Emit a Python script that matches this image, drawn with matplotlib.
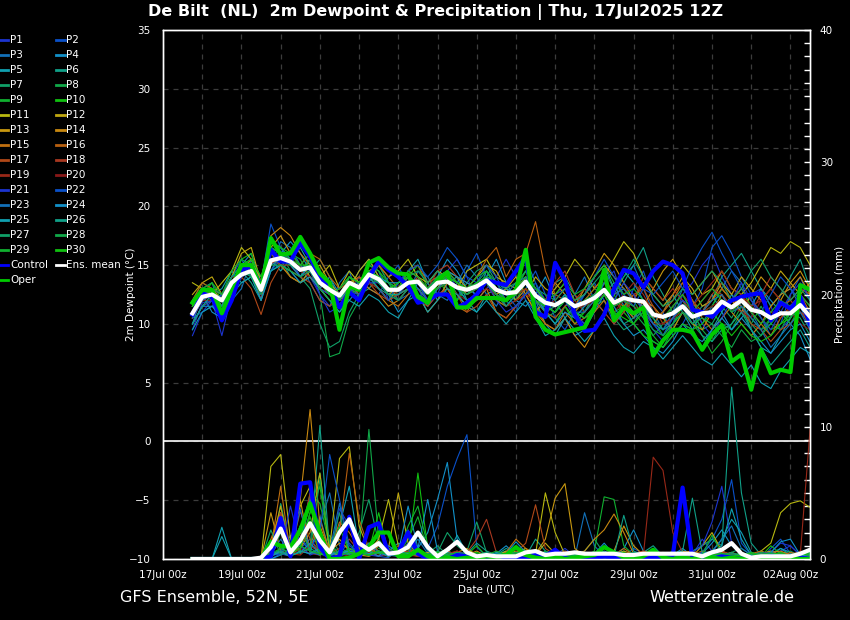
import pandas as pd
import matplotlib
matplotlib.use('Agg')
import matplotlib.pyplot as plt
import matplotlib.dates as mdates
from matplotlib.lines import Line2D

# GFS ensemble De Bilt, run 17Jul2025 12Z, 6-hourly steps 17Jul 18z .. 02Aug 12z
times = pd.date_range('2025-07-17 18:00', periods=64, freq='6h')
x_ticks = pd.date_range('2025-07-17', '2025-08-02', freq='2D')
day_lines = pd.date_range('2025-07-17', '2025-08-02', freq='D')

# 2m dewpoint (deg C)
td_mean = [10.9, 12.3, 12.5, 12.0, 13.5, 14.2, 14.5, 12.9, 15.4, 15.6, 15.3, 14.6, 14.8, 13.5, 12.9, 12.4,
           13.5, 13.1, 14.2, 13.8, 12.9, 12.9, 13.5, 13.6, 12.7, 13.5, 13.6, 13.1, 12.9, 13.2, 13.7, 12.9,
           12.6, 12.7, 13.6, 12.4, 11.8, 11.6, 12.1, 11.5, 11.8, 12.2, 12.9, 11.8, 12.2, 12.0, 11.9, 10.8,
           10.6, 10.9, 11.5, 10.6, 10.9, 11.0, 11.9, 11.4, 12.0, 11.2, 11.0, 10.5, 10.9, 10.9, 11.6, 10.6]
td_control = [10.8, 12.6, 12.3, 10.3, 12.0, 14.6, 14.9, 13.2, 16.3, 15.3, 15.3, 16.9, 15.7, 13.9, 13.2, 11.4,
              12.7, 12.0, 14.0, 15.3, 14.6, 14.0, 13.2, 11.8, 12.0, 12.5, 12.5, 11.4, 11.8, 12.5, 13.7, 13.5,
              13.3, 14.5, 15.7, 11.0, 10.6, 15.2, 13.7, 10.8, 9.4, 9.5, 10.8, 13.0, 14.6, 14.3, 13.1, 14.5,
              15.3, 15.0, 14.3, 11.2, 11.0, 10.6, 11.4, 12.0, 12.3, 12.5, 12.6, 10.3, 11.8, 11.3, 12.3, 10.0]
td_oper = [11.8, 12.9, 12.9, 10.9, 13.0, 15.0, 15.0, 13.0, 17.3, 15.9, 16.0, 17.4, 16.0, 14.3, 13.5, 9.5,
           13.2, 12.9, 15.2, 15.6, 14.8, 14.3, 14.2, 12.3, 11.8, 13.7, 14.4, 11.4, 11.4, 12.2, 12.2, 12.2,
           12.0, 12.9, 16.3, 10.6, 9.5, 9.1, 9.3, 9.5, 9.7, 11.4, 14.6, 10.3, 11.4, 10.9, 11.4, 7.3,
           8.6, 9.5, 9.5, 9.3, 7.8, 9.1, 9.9, 6.8, 7.4, 4.4, 7.8, 5.8, 6.1, 5.9, 13.3, 12.9]

td_p01 = [9.5, 11.8, 12.0, 9.0, 12.5, 14.0, 15.0, 12.0, 16.0, 15.0, 14.5, 13.5, 14.0, 12.5, 11.5, 12.0,
          14.0, 13.5, 15.0, 14.5, 12.0, 12.5, 14.0, 13.0, 11.5, 12.5, 14.5, 15.5, 14.0, 12.0, 13.0, 14.0,
          15.5, 14.0, 12.0, 11.0, 10.5, 12.5, 13.0, 11.0, 10.0, 11.5, 13.5, 14.5, 12.0, 10.5, 11.0, 9.5,
          8.5, 10.0, 12.5, 13.5, 15.0, 16.0, 14.0, 12.5, 11.0, 12.5, 13.0, 11.5, 9.5, 10.5, 12.0, 11.0]
td_p02 = [10.5, 11.0, 11.5, 12.5, 14.0, 15.5, 14.0, 13.5, 18.5, 16.5, 15.0, 14.0, 15.5, 14.0, 13.0, 11.5,
          12.5, 14.0, 13.0, 12.5, 14.0, 15.0, 13.0, 12.0, 13.5, 14.5, 13.0, 12.0, 14.5, 16.0, 14.0, 13.5,
          12.0, 11.0, 13.0, 14.5, 12.5, 10.5, 9.5, 11.0, 12.5, 13.5, 12.0, 10.0, 11.0, 13.0, 14.5, 12.0,
          11.0, 9.0, 10.0, 11.5, 13.0, 16.5, 17.5, 16.0, 14.0, 12.5, 10.5, 9.0, 10.0, 12.5, 14.0, 12.0]
td_p03 = [11.5, 13.0, 13.5, 11.0, 12.0, 13.0, 15.5, 14.0, 15.0, 17.0, 16.5, 15.0, 13.5, 12.0, 11.5, 13.5,
          14.5, 12.0, 13.5, 15.0, 13.5, 12.0, 12.5, 14.5, 14.0, 12.5, 12.0, 13.5, 15.0, 14.0, 12.5, 11.5,
          13.0, 14.5, 15.5, 13.5, 11.0, 10.0, 11.5, 12.5, 14.0, 12.0, 11.0, 12.5, 14.0, 15.0, 13.0, 11.0,
          9.5, 11.0, 13.0, 12.0, 10.0, 11.5, 13.0, 14.5, 13.5, 11.0, 9.5, 10.0, 12.5, 13.0, 11.5, 9.5]
td_p04 = [10.0, 12.5, 11.0, 10.5, 13.0, 15.0, 16.0, 13.5, 14.5, 16.0, 17.0, 16.0, 14.5, 13.0, 14.0, 12.5,
          12.0, 13.0, 14.5, 13.5, 12.5, 11.0, 12.0, 13.5, 12.0, 14.0, 15.5, 14.5, 13.0, 12.5, 14.0, 15.5,
          13.5, 12.0, 11.5, 12.5, 14.0, 12.0, 10.5, 9.0, 9.5, 11.0, 12.5, 13.5, 11.5, 10.0, 9.0, 8.0,
          7.5, 8.5, 10.0, 9.5, 11.0, 12.5, 11.0, 9.5, 10.5, 11.5, 13.0, 12.0, 11.0, 10.0, 9.0, 7.0]
td_p05 = [10.5, 12.0, 12.5, 13.0, 14.5, 13.5, 14.0, 12.5, 15.5, 14.5, 15.5, 16.5, 15.0, 14.5, 13.5, 12.0,
          13.0, 14.5, 15.5, 14.0, 13.5, 13.0, 14.5, 15.5, 13.5, 12.0, 13.5, 14.0, 12.0, 11.0, 12.5, 13.0,
          11.5, 12.5, 14.0, 12.0, 10.0, 9.0, 10.5, 11.5, 12.5, 14.0, 15.0, 13.0, 14.5, 13.5, 12.0, 10.5,
          11.0, 12.5, 11.0, 9.5, 8.0, 9.5, 11.0, 12.5, 11.5, 9.5, 8.0, 7.5, 9.0, 10.5, 12.0, 10.0]
td_p06 = [11.0, 12.0, 13.0, 12.0, 13.0, 14.5, 13.5, 12.0, 15.0, 15.5, 14.0, 13.5, 14.5, 15.5, 14.0, 12.0,
          13.5, 12.5, 13.0, 14.0, 12.5, 13.5, 14.0, 12.5, 11.5, 13.0, 14.0, 12.5, 11.5, 12.5, 14.5, 13.0,
          12.0, 13.0, 14.5, 13.0, 12.0, 13.5, 14.0, 12.5, 11.0, 12.5, 14.0, 12.0, 13.5, 15.0, 16.5, 14.0,
          12.5, 11.0, 12.0, 10.5, 11.5, 12.0, 14.0, 15.0, 16.0, 14.5, 13.0, 11.5, 12.5, 14.0, 15.5, 13.0]
td_p07 = [12.0, 13.5, 13.0, 11.5, 14.0, 15.0, 14.0, 12.5, 14.5, 15.0, 15.5, 14.0, 13.0, 10.0, 8.0, 8.5,
          11.0, 12.5, 13.5, 13.0, 12.0, 13.0, 14.0, 13.0, 12.5, 14.0, 13.0, 12.0, 13.5, 14.5, 15.0, 13.5,
          12.5, 12.0, 13.0, 11.5, 10.5, 11.0, 12.5, 11.0, 10.5, 11.5, 12.0, 10.5, 9.5, 10.0, 11.5, 10.0,
          9.0, 10.5, 12.0, 11.0, 9.5, 10.0, 11.5, 10.5, 12.0, 10.0, 9.0, 10.5, 12.0, 11.0, 10.5, 9.0]
td_p08 = [11.5, 12.5, 12.0, 12.5, 13.5, 14.0, 15.0, 13.0, 16.5, 16.0, 14.5, 14.0, 15.5, 12.5, 7.2, 7.5,
          10.5, 12.0, 14.0, 15.0, 13.5, 12.5, 13.0, 14.0, 13.0, 13.5, 14.5, 13.5, 12.5, 13.0, 14.0, 12.0,
          11.5, 12.0, 13.5, 12.5, 11.0, 10.5, 11.5, 10.5, 11.0, 12.5, 13.0, 11.5, 12.0, 11.0, 10.0, 9.0,
          10.0, 11.5, 12.5, 11.0, 9.5, 8.5, 10.0, 9.5, 11.0, 10.0, 11.5, 10.0, 9.5, 11.0, 12.5, 11.5]
td_p09 = [12.0, 13.0, 12.5, 11.5, 14.0, 14.5, 15.5, 13.5, 16.0, 15.5, 16.0, 15.5, 14.0, 13.0, 12.0, 11.0,
          12.5, 13.0, 14.5, 14.0, 13.0, 12.0, 13.0, 12.5, 12.0, 13.5, 14.0, 13.0, 12.0, 12.5, 13.5, 12.5,
          13.0, 12.5, 13.0, 12.0, 11.5, 11.0, 12.0, 11.0, 12.0, 13.0, 12.5, 11.0, 11.5, 12.0, 10.5, 9.0,
          8.0, 9.5, 11.0, 10.0, 9.0, 7.5, 8.5, 10.0, 11.5, 10.5, 9.5, 10.5, 11.0, 10.0, 11.5, 10.5]
td_p10 = [11.0, 12.5, 13.5, 12.0, 13.0, 15.5, 16.0, 13.0, 17.0, 16.5, 15.5, 14.5, 15.0, 14.0, 13.0, 12.5,
          14.0, 13.0, 15.0, 14.5, 13.0, 13.5, 14.0, 15.0, 13.0, 14.0, 12.5, 12.0, 13.0, 14.0, 14.5, 13.0,
          12.5, 13.0, 14.5, 12.0, 11.0, 10.0, 11.5, 10.0, 11.0, 12.0, 13.5, 12.5, 11.0, 10.0, 11.0, 10.5,
          9.0, 10.0, 11.5, 10.0, 11.0, 11.5, 13.0, 12.0, 13.0, 11.5, 10.5, 9.5, 10.0, 10.5, 12.0, 10.5]
td_p11 = [13.5, 13.0, 12.5, 13.5, 14.5, 16.5, 15.5, 13.5, 15.0, 16.0, 15.0, 14.5, 15.5, 14.0, 15.0, 13.0,
          14.5, 13.5, 14.5, 15.0, 14.0, 14.5, 15.5, 14.0, 13.5, 14.5, 14.0, 13.0, 14.5, 15.0, 15.5, 14.0,
          13.5, 13.0, 14.0, 13.0, 12.0, 13.0, 14.0, 15.5, 14.5, 13.0, 14.0, 15.5, 17.0, 16.0, 14.0, 13.0,
          12.0, 13.5, 15.0, 14.0, 12.5, 13.0, 14.5, 13.0, 12.5, 13.5, 15.0, 16.5, 16.0, 17.0, 16.5, 15.0]
td_p12 = [12.5, 13.5, 14.0, 12.5, 14.0, 16.0, 16.5, 13.5, 15.5, 15.0, 14.0, 13.5, 14.5, 15.0, 13.5, 12.5,
          13.0, 14.5, 15.5, 14.0, 12.5, 13.0, 14.0, 13.5, 12.5, 13.0, 14.5, 14.0, 13.0, 14.0, 15.0, 14.5,
          13.0, 12.0, 12.5, 14.0, 13.0, 12.5, 13.5, 12.0, 12.5, 14.0, 15.0, 14.0, 13.0, 12.0, 13.5, 12.5,
          11.5, 12.5, 14.0, 13.0, 11.5, 12.0, 13.5, 12.5, 14.0, 13.0, 12.0, 13.0, 14.5, 13.5, 12.5, 13.5]
td_p13 = [11.5, 12.5, 13.0, 12.0, 13.5, 14.0, 15.0, 14.0, 16.5, 17.5, 16.0, 15.0, 14.0, 13.5, 12.5, 13.0,
          14.0, 13.5, 14.0, 13.0, 12.0, 13.0, 14.5, 14.0, 12.5, 13.0, 14.0, 13.5, 12.5, 13.0, 14.0, 12.5,
          13.0, 14.0, 12.5, 11.0, 12.0, 13.5, 12.5, 11.5, 13.0, 14.5, 16.0, 15.0, 13.5, 12.0, 11.5, 13.0,
          14.5, 15.5, 14.0, 12.5, 13.5, 14.5, 13.0, 12.0, 11.0, 12.5, 14.0, 13.0, 12.0, 13.5, 14.5, 13.0]
td_p14 = [11.0, 12.0, 12.5, 11.5, 13.0, 14.5, 15.5, 13.0, 17.5, 18.2, 17.5, 16.0, 15.0, 13.0, 12.0, 11.5,
          13.5, 14.0, 13.0, 12.5, 11.5, 12.0, 13.0, 12.5, 11.0, 12.0, 13.5, 12.5, 11.5, 12.0, 13.0, 11.0,
          10.5, 11.5, 12.5, 11.0, 10.0, 9.5, 10.5, 9.0, 8.0, 9.5, 11.0, 12.0, 11.5, 10.5, 12.0, 11.5,
          10.5, 9.5, 11.0, 10.0, 9.5, 11.0, 12.5, 11.0, 10.0, 9.0, 10.0, 11.5, 12.5, 13.0, 14.0, 12.5]
td_p15 = [10.0, 11.5, 12.0, 11.0, 12.5, 14.0, 14.5, 12.0, 16.0, 15.0, 14.0, 13.5, 14.0, 13.0, 12.5, 12.0,
          13.0, 12.5, 13.5, 13.0, 12.0, 11.5, 12.5, 13.0, 12.0, 12.5, 13.0, 11.5, 11.0, 12.5, 13.5, 12.0,
          11.5, 12.0, 13.0, 11.5, 10.0, 9.5, 11.0, 10.0, 10.5, 11.0, 12.0, 10.5, 11.5, 12.5, 11.0, 10.0,
          11.0, 12.0, 13.5, 12.0, 10.5, 9.5, 10.5, 11.5, 12.5, 11.0, 10.0, 9.0, 10.5, 11.5, 12.5, 11.0]
td_p16 = [12.0, 13.5, 13.0, 12.5, 14.0, 14.0, 14.5, 13.5, 15.0, 16.0, 15.5, 15.0, 16.0, 15.5, 14.0, 13.0,
          13.5, 12.5, 14.0, 15.0, 14.0, 13.0, 14.5, 15.0, 13.5, 14.0, 14.5, 13.5, 13.0, 14.0, 15.5, 16.5,
          14.0, 15.5, 16.0, 18.7, 14.5, 12.5, 12.0, 11.0, 12.0, 13.0, 14.0, 12.5, 13.0, 12.0, 11.5, 10.5,
          11.0, 12.5, 13.5, 12.0, 11.0, 12.0, 13.0, 12.0, 13.0, 12.0, 11.0, 10.5, 11.5, 12.0, 13.0, 12.5]
td_p17 = [11.0, 12.0, 12.5, 11.0, 13.0, 14.0, 13.0, 10.8, 13.5, 15.0, 14.5, 14.0, 13.5, 12.0, 11.5, 12.5,
          13.0, 14.0, 13.5, 12.5, 12.0, 12.5, 13.0, 12.0, 11.5, 12.5, 13.0, 12.5, 11.0, 11.5, 12.5, 11.0,
          10.5, 11.5, 12.5, 12.0, 11.0, 10.5, 11.5, 12.0, 13.0, 12.0, 11.0, 10.0, 11.0, 12.5, 13.0, 11.5,
          10.0, 10.5, 11.5, 10.5, 11.0, 12.5, 13.5, 12.0, 11.5, 10.0, 9.5, 8.5, 9.5, 10.0, 11.0, 10.0]
td_p18 = [10.5, 12.0, 13.0, 12.5, 13.5, 14.5, 15.0, 13.0, 15.0, 16.0, 15.5, 14.5, 14.0, 13.0, 12.5, 11.5,
          12.5, 13.5, 14.0, 13.5, 13.0, 12.5, 13.0, 14.0, 13.0, 14.5, 15.0, 14.0, 13.5, 13.0, 13.5, 12.5,
          12.0, 13.0, 14.0, 12.5, 12.0, 13.5, 14.5, 12.5, 11.5, 12.5, 13.5, 12.0, 11.0, 12.0, 14.0, 13.0,
          12.0, 13.0, 12.0, 11.0, 12.0, 13.0, 12.5, 11.5, 12.0, 11.0, 12.5, 14.0, 13.0, 12.0, 11.0, 10.5]
td_p19 = [11.0, 12.5, 12.5, 12.0, 13.5, 14.0, 14.5, 12.5, 15.5, 15.0, 15.0, 14.0, 14.5, 13.5, 13.0, 12.5,
          13.5, 13.0, 14.5, 14.0, 13.0, 12.5, 13.5, 13.5, 12.5, 13.5, 14.0, 13.0, 12.5, 13.0, 13.5, 12.5,
          12.0, 12.5, 13.0, 12.0, 11.5, 12.0, 13.0, 12.0, 11.0, 12.0, 13.0, 11.5, 12.5, 13.5, 12.5, 11.0,
          10.5, 11.5, 12.5, 11.5, 12.5, 13.5, 14.5, 13.0, 12.5, 11.5, 12.0, 11.0, 10.5, 11.5, 12.5, 11.5]
td_p20 = [10.5, 12.0, 12.0, 11.5, 13.0, 14.5, 15.0, 13.0, 15.0, 15.5, 15.0, 14.5, 14.0, 13.5, 12.5, 12.0,
          13.0, 12.5, 13.5, 13.0, 12.5, 12.0, 13.0, 13.5, 12.5, 13.0, 13.5, 12.5, 12.0, 12.5, 13.0, 12.5,
          11.5, 12.0, 12.5, 12.0, 11.0, 11.5, 12.0, 11.5, 11.5, 12.0, 12.5, 11.0, 12.0, 11.5, 11.0, 10.0,
          10.0, 10.5, 11.0, 10.0, 11.0, 11.5, 12.0, 11.5, 11.0, 10.5, 12.0, 13.0, 12.0, 11.0, 10.0, 9.5]
td_p21 = [9.0, 11.0, 12.0, 11.5, 13.5, 14.0, 14.5, 12.5, 15.5, 16.0, 15.5, 14.0, 14.5, 12.5, 11.0, 11.5,
          13.0, 12.0, 13.5, 13.5, 12.5, 12.0, 13.0, 13.5, 12.0, 13.5, 14.5, 13.0, 12.0, 12.5, 13.5, 12.0,
          11.0, 11.5, 12.5, 13.0, 11.5, 11.0, 12.0, 10.5, 10.0, 11.5, 13.0, 12.0, 13.5, 12.5, 11.0, 10.0,
          9.0, 10.5, 12.0, 11.5, 10.0, 9.0, 10.5, 12.0, 13.5, 12.0, 10.5, 9.5, 11.0, 12.5, 13.5, 12.0]
td_p22 = [10.0, 11.5, 12.0, 12.5, 14.0, 14.5, 14.0, 12.0, 14.5, 15.5, 16.0, 15.0, 14.5, 13.0, 12.5, 13.0,
          14.0, 13.5, 14.0, 13.0, 12.0, 13.5, 14.5, 15.0, 14.0, 15.0, 16.5, 15.5, 14.0, 13.5, 15.0, 14.0,
          12.5, 11.5, 12.5, 13.5, 12.0, 11.5, 12.5, 11.5, 12.5, 14.0, 15.5, 14.0, 12.5, 11.5, 13.0, 12.5,
          13.5, 14.5, 13.0, 15.0, 16.5, 17.8, 16.0, 14.5, 13.0, 12.0, 11.0, 12.5, 14.0, 13.0, 12.0, 11.0]
td_p23 = [10.5, 12.0, 12.5, 12.0, 13.0, 14.0, 15.0, 13.0, 16.0, 16.5, 15.5, 14.5, 15.0, 14.0, 13.0, 12.5,
          13.0, 12.5, 14.0, 13.5, 12.5, 12.5, 13.5, 13.0, 12.0, 13.0, 14.0, 13.5, 13.0, 13.5, 14.0, 13.0,
          12.5, 13.5, 14.0, 12.5, 11.5, 11.0, 12.0, 11.0, 11.0, 12.0, 13.5, 12.5, 13.0, 12.0, 11.5, 10.0,
          9.5, 10.5, 11.5, 10.0, 11.0, 12.0, 12.5, 11.0, 11.5, 10.5, 9.5, 8.0, 9.0, 10.0, 11.0, 9.5]
td_p24 = [10.0, 11.5, 11.5, 10.5, 12.5, 14.5, 15.0, 13.0, 15.0, 15.5, 15.0, 14.0, 15.0, 14.0, 12.5, 12.0,
          13.0, 13.5, 14.5, 14.0, 13.5, 13.5, 14.0, 13.5, 13.0, 14.0, 14.5, 14.0, 13.5, 13.0, 14.0, 13.5,
          13.0, 12.5, 13.5, 12.5, 11.0, 10.0, 11.0, 10.5, 11.5, 12.5, 13.0, 11.5, 10.0, 9.0, 9.5, 8.5,
          8.0, 9.0, 10.0, 9.0, 8.5, 9.5, 10.5, 9.5, 10.5, 9.5, 8.5, 7.5, 8.5, 9.5, 10.0, 8.5]
td_p25 = [9.5, 11.0, 11.5, 11.0, 12.5, 13.5, 14.0, 12.0, 14.5, 15.0, 14.5, 13.5, 14.0, 13.0, 12.0, 11.0,
          12.0, 11.5, 12.5, 12.0, 11.0, 10.5, 12.0, 12.5, 11.0, 12.0, 13.0, 12.5, 11.5, 11.0, 12.0, 11.0,
          10.0, 11.0, 12.0, 10.5, 9.0, 9.5, 10.5, 9.5, 8.5, 9.5, 10.5, 9.0, 8.0, 7.5, 8.5, 8.0,
          7.0, 8.0, 9.0, 8.0, 7.0, 6.5, 7.5, 6.5, 5.5, 6.5, 5.0, 4.5, 6.0, 7.0, 8.0, 7.5]
td_p26 = [10.0, 11.5, 12.5, 11.5, 13.5, 14.5, 15.0, 13.5, 16.5, 16.0, 15.0, 14.5, 15.0, 13.5, 12.5, 12.0,
          13.5, 13.0, 14.0, 13.0, 12.5, 12.5, 13.0, 13.5, 12.5, 13.5, 14.0, 13.0, 12.0, 12.5, 13.5, 12.5,
          11.5, 12.5, 13.5, 12.0, 11.0, 11.5, 12.5, 11.0, 10.5, 11.5, 12.5, 11.0, 10.0, 10.5, 11.5, 10.5,
          9.5, 10.0, 11.0, 10.5, 9.0, 8.5, 9.5, 10.0, 11.0, 9.5, 8.0, 6.5, 7.5, 8.5, 9.5, 8.0]
td_p27 = [11.5, 12.5, 13.0, 12.5, 14.0, 15.0, 15.5, 13.0, 16.0, 15.5, 15.0, 14.5, 15.5, 14.0, 13.0, 12.5,
          13.5, 13.0, 14.5, 14.0, 13.0, 13.0, 14.0, 14.5, 13.5, 14.5, 13.5, 13.0, 12.5, 13.5, 14.5, 13.5,
          13.0, 13.5, 14.5, 13.0, 12.5, 12.0, 13.0, 12.0, 12.5, 13.5, 14.5, 13.0, 14.0, 15.5, 14.0, 12.5,
          11.5, 12.0, 13.0, 12.5, 13.5, 14.5, 13.5, 12.0, 13.0, 14.5, 15.5, 14.0, 13.0, 12.0, 13.0, 12.0]
td_p28 = [11.0, 12.5, 12.5, 12.0, 13.5, 14.5, 14.0, 12.5, 15.0, 15.0, 14.5, 14.0, 14.5, 13.0, 12.0, 11.5,
          12.5, 13.0, 14.0, 13.5, 12.5, 12.0, 13.0, 13.5, 12.5, 13.0, 13.5, 13.0, 12.5, 13.0, 13.5, 12.5,
          12.0, 12.5, 13.5, 12.5, 11.5, 11.0, 12.0, 11.5, 12.0, 12.5, 13.0, 11.5, 12.0, 11.5, 10.5, 9.5,
          9.0, 10.0, 11.0, 10.0, 10.5, 10.0, 9.0, 8.0, 9.5, 8.5, 9.0, 10.0, 11.0, 10.5, 11.5, 10.5]
td_p29 = [12.0, 13.0, 13.5, 12.5, 14.5, 15.5, 15.0, 13.5, 16.5, 16.0, 15.5, 15.0, 16.0, 14.5, 13.5, 12.0,
          14.0, 13.5, 15.0, 14.5, 13.5, 13.0, 14.5, 14.0, 13.0, 14.0, 14.5, 13.5, 13.0, 14.0, 14.5, 13.0,
          12.5, 13.0, 14.0, 13.0, 12.0, 12.5, 13.5, 12.5, 13.0, 14.0, 15.0, 13.5, 12.5, 13.0, 12.0, 11.0,
          10.5, 11.5, 12.5, 11.0, 12.0, 13.0, 12.0, 11.0, 12.0, 11.0, 10.0, 11.0, 12.0, 11.5, 12.5, 11.5]
td_p30 = [11.5, 13.0, 12.5, 12.0, 13.5, 15.0, 15.5, 14.0, 17.0, 16.5, 16.0, 15.0, 15.0, 13.5, 12.5, 13.0,
          14.0, 13.5, 14.5, 14.0, 13.0, 13.5, 14.0, 13.5, 12.5, 13.5, 14.0, 13.5, 13.0, 13.5, 14.0, 13.0,
          12.0, 12.5, 13.5, 12.0, 11.5, 11.0, 12.0, 11.0, 10.5, 11.5, 12.5, 11.0, 10.5, 10.0, 9.0, 8.5,
          8.0, 9.0, 10.0, 9.5, 10.0, 11.0, 10.0, 9.0, 10.0, 9.0, 8.5, 9.0, 10.0, 11.0, 12.0, 10.5]

# precipitation (mm per 6h)
rr_mean = [0, 0, 0, 0, 0, 0, 0, 0.1, 0.9, 2.3, 0.5, 1.4, 2.7, 1.4, 0.5, 2.0,
           3.0, 1.2, 0.7, 1.2, 0.4, 0.5, 0.9, 2.0, 0.9, 0.2, 0.7, 1.3, 0.5, 0.2, 0.3, 0.2,
           0.2, 0.2, 0.5, 0.6, 0.3, 0.4, 0.4, 0.5, 0.4, 0.4, 0.4, 0.4, 0.3, 0.3, 0.4, 0.4,
           0.4, 0.4, 0.4, 0.4, 0.2, 0.5, 0.7, 1.2, 0.4, 0.1, 0.2, 0.2, 0.2, 0.2, 0.4, 0.7]
rr_control = [0, 0, 0, 0, 0, 0, 0, 0, 0.2, 3.1, 0.2, 5.7, 5.8, 0.9, 0, 0.2,
              3.2, 0, 2.4, 2.7, 0.4, 0.5, 2.0, 0.4, 0, 0.1, 0, 0.3, 0.2, 0.1, 0, 0.1,
              0, 0.1, 0, 0.4, 0.2, 0.7, 0.1, 0, 0.1, 0, 0.2, 0.1, 0, 0.1, 0, 0.1,
              0, 0.3, 5.4, 0, 0.1, 0, 0.2, 0.1, 0, 0.1, 0, 0.2, 0.1, 0, 0.1, 0]
rr_oper = [0, 0, 0, 0, 0, 0, 0, 0, 1.3, 1.0, 0.9, 2.2, 4.2, 2.0, 0, 0,
           0.1, 0.4, 0.9, 2.0, 2.0, 0.2, 0.2, 0.7, 0.2, 0, 0.1, 0, 0.1, 0, 0.2, 0.1,
           0.3, 0.9, 0.3, 0.1, 0, 0.2, 0, 0.1, 0.2, 0.3, 0.9, 0.5, 0.1, 0, 0.2, 0.7,
           0.1, 0, 0.1, 0, 0.2, 0.1, 0, 0.1, 0, 0, 0.1, 0, 0, 0.1, 0, 0]

rr_p01 = [0, 0, 0, 0, 0, 0, 0, 0, 0.5, 3.5, 0.3, 2.0, 4.8, 0.4, 0.1, 3.8,
          2.5, 0.6, 0.3, 1.0, 0.2, 0.5, 2.2, 0.8, 0.2, 0.1, 0, 0.4, 0.3, 0.1, 0, 0,
          0.2, 0.5, 0.1, 0, 0, 0.3, 0.8, 0.2, 0, 0, 0.1, 0.4, 0.2, 0, 0.1, 0.5,
          0.2, 0.1, 0, 0.3, 1.5, 0.6, 0, 0.2, 0.4, 0.3, 0.1, 0, 0.6, 1.0, 0.3, 0.1]
rr_p02 = [0, 0, 0, 0, 0, 0, 0, 0, 0, 0.4, 0.2, 0.8, 1.5, 0.6, 0.2, 0.5,
          1.2, 0.3, 0.6, 0.2, 0.1, 0.8, 1.5, 2.0, 0.8, 2.5, 5.5, 7.6, 9.4, 0.9, 0.2, 0,
          0, 0.2, 0.4, 0.1, 0, 0.5, 0.2, 0, 0, 0.1, 0, 0.3, 0.2, 0.8, 0.4, 0,
          0.1, 0.3, 0, 0.2, 0.5, 1.5, 3.0, 6.0, 1.2, 0.3, 0, 0.8, 1.5, 0.4, 0, 0.2]
rr_p03 = [0, 0, 0, 0, 0, 0, 0, 0, 0.2, 0.8, 0.4, 1.5, 0.6, 2.5, 5.0, 1.0,
          0.3, 1.2, 0.5, 0.2, 0.8, 0.3, 0.6, 1.5, 0.4, 0.2, 0.8, 1.2, 0.3, 0.1, 0, 0.2,
          0.5, 0.3, 0.2, 0.6, 0.1, 0, 0.2, 0.1, 3.5, 1.0, 0.2, 0, 0.1, 0.3, 0.2, 0,
          0.1, 0.2, 0.5, 0.3, 0, 0.1, 0.4, 0.2, 0.1, 0, 0.3, 0.6, 0.2, 0.1, 0, 0.3]
rr_p04 = [0, 0, 0, 0, 0, 0, 0, 0, 0, 0.3, 1.8, 0.6, 0.4, 3.2, 0.5, 0.2,
          0.8, 0.2, 0.4, 1.0, 0.3, 0.2, 0.5, 0.8, 2.0, 4.5, 7.3, 1.5, 0.6, 0.3, 0.2, 0.4,
          1.0, 0.3, 0.2, 0.1, 0.5, 0.2, 0.6, 0.3, 0.2, 0.4, 1.2, 0.3, 0.8, 2.2, 0.6, 0.2,
          0.1, 0.3, 0.8, 0.2, 0.4, 1.2, 2.2, 1.0, 0.5, 0.2, 0.1, 0.3, 0.8, 0.5, 0.3, 0.6]
rr_p05 = [0, 0, 0, 2.4, 0, 0, 0, 0, 0.2, 2.5, 0.3, 0.8, 4.5, 0.6, 0.3, 2.5,
          5.5, 0.8, 0.4, 0.2, 0.6, 1.2, 0.8, 0.3, 0.2, 0.5, 0.3, 1.8, 0.4, 0.2, 0.1, 0.3,
          0.6, 0.2, 0.1, 0.3, 0.2, 0.1, 0, 0.2, 0.4, 0.2, 0.6, 0.3, 0.2, 0.4, 0.3, 0.1,
          0, 0.2, 0.4, 0.3, 0.1, 0.6, 1.5, 3.0, 2.0, 0.5, 0.2, 0.4, 0.8, 0.3, 0.1, 0.2]
rr_p06 = [0, 0, 0, 0, 0, 0, 0, 0, 0.3, 0.6, 1.5, 0.4, 0.8, 10.1, 0.5, 0.2,
          0.6, 0.3, 0.8, 0.5, 0.2, 0.4, 1.0, 0.6, 0.3, 0.2, 0.5, 0.2, 0.4, 1.2, 0.6, 0.3,
          0.8, 0.4, 0.2, 1.5, 0.6, 0.3, 0.2, 0.1, 0.3, 0.5, 0.2, 0.4, 0.6, 0.3, 0.5, 1.0,
          0.2, 0.5, 0.3, 0.6, 1.0, 1.5, 1.0, 13.0, 5.0, 1.2, 0.3, 0.2, 0.1, 0.4, 0.3, 0.2]
rr_p07 = [0, 0, 0, 0, 0, 0, 0, 0, 0, 4.2, 0.8, 2.5, 0.6, 0.4, 1.8, 0.5,
          0.3, 2.0, 4.5, 1.2, 0.8, 0.3, 0.6, 0.2, 0.4, 1.0, 0.3, 0.2, 0.6, 2.8, 0.5, 0.2,
          0.1, 0.3, 0.6, 0.2, 0.1, 0.4, 0.2, 0.3, 0.6, 1.5, 0.4, 0.2, 0.3, 0.1, 0.5, 0.2,
          0.4, 0.2, 0.1, 0.3, 0.6, 0.4, 0.2, 0.5, 0.8, 0.3, 0.2, 0.1, 0.4, 0.6, 0.2, 0.1]
rr_p08 = [0, 0, 0, 0, 0, 0, 0, 0, 0.2, 2.0, 0.5, 1.0, 3.5, 6.5, 0.8, 0.3,
          0.4, 0.6, 9.8, 1.5, 0.4, 0.2, 0.8, 0.5, 0.3, 0.1, 0.4, 0.2, 0.3, 0.1, 0, 0.2,
          0.1, 0.4, 0.3, 0.2, 0.6, 0.3, 0.1, 0, 0.2, 0.1, 0.3, 0.2, 0.1, 0.3, 0.2, 0.1,
          0, 0.2, 0.1, 0.4, 0.2, 0.1, 0.3, 0.2, 0.5, 0.2, 0.1, 0.3, 0.2, 0.1, 0.2, 0.3]
rr_p09 = [0, 0, 0, 0, 0, 0, 0, 0, 0.1, 0.8, 1.5, 0.6, 5.0, 4.2, 1.0, 0.4,
          0.6, 0.3, 1.2, 0.8, 0.5, 0.3, 1.5, 3.2, 0.6, 0.3, 0.2, 0.5, 0.4, 0.2, 0.1, 0.3,
          0.5, 0.2, 0.8, 0.3, 0.1, 0.2, 0.4, 0.3, 0.2, 0.6, 4.7, 4.5, 1.0, 0.3, 0.2, 0.1,
          0.3, 0.2, 0.1, 0.4, 0.3, 0.2, 0.5, 0.3, 0.4, 0.2, 0.6, 0.3, 0.1, 0.2, 0.3, 0.5]
rr_p10 = [0, 0, 0, 0, 0, 0, 0, 0, 0.3, 3.0, 0.2, 1.0, 3.5, 5.5, 0.6, 0.2,
          0.8, 0.4, 0.6, 3.5, 0.5, 0.2, 0.4, 6.5, 0.8, 0.3, 0.2, 0.5, 0.3, 1.0, 0.2, 0.1,
          0.4, 0.2, 0.3, 0.1, 0.2, 0.5, 0.3, 0.2, 0.1, 0.3, 0.2, 0.5, 0.4, 0.2, 0.1, 0.3,
          0.2, 0.6, 0.3, 0.2, 0.5, 0.3, 0.2, 0.4, 0.3, 0.5, 0.2, 1.0, 0.4, 0.2, 0.3, 0.6]
rr_p11 = [0, 0, 0, 0, 0, 0, 0, 0, 7.0, 7.9, 1.5, 4.0, 5.5, 1.2, 0.8, 7.6,
          8.5, 2.5, 0.6, 1.5, 4.5, 1.0, 0.4, 0.8, 0.3, 0.2, 0.6, 0.3, 0.2, 0.1, 0.3, 0.2,
          0.6, 0.3, 0.2, 0.4, 5.0, 2.0, 0.3, 0.2, 0.1, 0.4, 0.3, 0.2, 0.6, 0.3, 0.2, 0.1,
          0.3, 0.2, 0.5, 0.3, 0.2, 0.6, 0.3, 0.2, 0.4, 0.2, 0.6, 1.2, 3.5, 4.2, 4.4, 3.9]
rr_p12 = [0, 0, 0, 0, 0, 0, 0, 0, 1.0, 4.0, 0.3, 0.8, 2.0, 6.5, 0.6, 0.2,
          3.0, 1.0, 0.5, 0.2, 0.8, 5.0, 1.2, 0.3, 0.5, 0.2, 0.4, 0.3, 0.1, 0.2, 0.4, 0.3,
          0.2, 0.5, 0.8, 0.3, 1.2, 0.4, 0.2, 0.3, 0.5, 0.3, 0.2, 0.6, 0.4, 0.2, 0.3, 0.1,
          0.2, 0.5, 0.3, 0.2, 1.0, 2.0, 0.6, 0.3, 0.2, 0.4, 0.3, 0.2, 0.5, 0.3, 0.2, 0.4]
rr_p13 = [0, 0, 0, 0, 0, 0, 0, 0, 3.5, 0.6, 0.3, 4.5, 0.5, 0.3, 0.8, 1.5,
          0.6, 0.3, 0.2, 0.5, 0.4, 0.3, 0.5, 0.4, 0.2, 0.3, 0.1, 0.5, 0.8, 0.3, 0.2, 0.1,
          0.3, 0.6, 0.2, 0.4, 1.5, 4.6, 5.7, 0.8, 0.2, 0.5, 0.3, 0.6, 2.5, 1.0, 0.3, 0.2,
          0.5, 0.2, 0.6, 0.3, 0.2, 0.4, 0.3, 0.2, 0.3, 0.2, 0.4, 0.6, 0.3, 0.2, 0.5, 0.3]
rr_p14 = [0, 0, 0, 0, 0, 0, 0, 0, 1.5, 3.5, 0.8, 4.5, 11.3, 2.5, 0.6, 1.2,
          0.8, 0.4, 1.2, 0.6, 0.3, 0.5, 0.8, 0.2, 0.3, 0.5, 0.2, 0.1, 0.3, 0.6, 0.2, 0.3,
          0.2, 0.1, 0.4, 0.2, 0.3, 0.2, 0.5, 0.3, 0.6, 1.5, 2.2, 3.4, 2.0, 0.4, 0.2, 0.1,
          0.3, 0.2, 0.5, 0.6, 0.3, 0.2, 0.4, 0.2, 0.1, 0.3, 0.2, 0.5, 0.6, 0.3, 0.2, 0.1]
rr_p15 = [0, 0, 0, 0, 0, 0, 0, 0, 0.8, 5.5, 0.4, 2.0, 1.0, 3.0, 0.5, 2.8,
          2.0, 0.8, 0.3, 1.0, 0.6, 0.4, 1.2, 0.5, 0.4, 0.2, 0.3, 0.6, 0.2, 0.1, 0.3, 0.2,
          0.5, 1.5, 0.8, 0.3, 0.2, 0.4, 0.3, 0.2, 0.4, 0.2, 0.1, 0.3, 0.8, 0.3, 0.5, 0.2,
          0.2, 0.4, 0.3, 0.2, 0.4, 0.6, 0.3, 0.5, 0.2, 0.4, 0.6, 0.3, 0.2, 0.5, 0.3, 0.2]
rr_p16 = [0, 0, 0, 0, 0, 0, 0, 0, 0.5, 2.2, 0.6, 0.8, 2.5, 0.4, 0.3, 2.0,
          8.0, 3.0, 0.8, 0.4, 0.3, 0.6, 0.4, 0.2, 0.3, 0.4, 0.2, 0.5, 0.3, 0.2, 0.1, 0.3,
          0.2, 0.4, 0.6, 0.5, 0.3, 0.2, 0.4, 0.3, 0.2, 0.3, 0.5, 0.2, 0.4, 0.3, 0.6, 0.4,
          0.3, 0.5, 0.2, 0.3, 0.6, 0.2, 0.4, 0.3, 0.2, 0.3, 0.4, 0.2, 0.5, 0.3, 0.2, 0.6]
rr_p17 = [0, 0, 0, 0, 0, 0, 0, 0, 0.3, 2.8, 0.5, 3.6, 1.5, 0.4, 0.8, 0.3,
          3.0, 0.3, 0.6, 0.2, 0.4, 1.0, 0.8, 0.3, 0.2, 0.4, 0.3, 0.2, 0.5, 0.3, 0.2, 0.1,
          0.3, 0.5, 1.2, 4.1, 0.8, 0.3, 0.2, 0.4, 0.3, 0.2, 0.5, 0.3, 0.2, 0.4, 0.6, 0.3,
          0.2, 0.4, 0.3, 0.6, 0.3, 0.2, 0.5, 0.3, 0.2, 0.3, 0.5, 0.4, 0.2, 0.3, 0.6, 0.4]
rr_p18 = [0, 0, 0, 0, 0, 0, 0, 0, 0.4, 3.5, 0.3, 1.5, 5.0, 0.6, 0.4, 0.8,
          1.5, 0.6, 0.3, 0.5, 0.8, 0.4, 0.6, 0.3, 0.2, 0.4, 0.6, 0.3, 0.5, 1.5, 3.0, 0.5,
          0.3, 0.5, 0.2, 0.4, 0.3, 0.2, 0.6, 0.3, 0.2, 0.4, 0.3, 0.2, 0.5, 0.3, 0.2, 0.4,
          0.3, 0.2, 0.5, 0.3, 0.2, 0.4, 0.6, 0.3, 0.2, 0.4, 0.3, 0.5, 0.3, 0.2, 0.4, 0.3]
rr_p19 = [0, 0, 0, 0, 0, 0, 0, 0, 0.2, 0.6, 0.4, 0.3, 1.0, 0.5, 0.3, 0.6,
          0.4, 0.3, 0.5, 0.2, 0.6, 0.4, 0.3, 0.2, 0.3, 0.2, 0.4, 0.6, 0.3, 0.2, 0.5, 0.3,
          0.2, 0.4, 0.3, 0.5, 0.2, 0.3, 0.4, 0.2, 0.3, 0.2, 0.4, 0.3, 0.5, 0.2, 0.3, 7.7,
          6.7, 2.0, 0.5, 0.3, 0.2, 0.4, 0.3, 0.2, 0.3, 0.2, 0.4, 0.3, 0.2, 0.1, 0.3, 9.8]
rr_p20 = [0, 0, 0, 0, 0, 0, 0, 0, 0.3, 0.5, 0.2, 0.8, 0.4, 0.3, 0.6, 0.4,
          0.2, 0.5, 0.3, 0.4, 0.2, 0.6, 0.3, 0.5, 0.3, 0.2, 0.5, 0.3, 0.2, 0.4, 0.3, 0.2,
          0.4, 0.3, 0.2, 0.5, 0.3, 0.2, 0.4, 0.3, 0.2, 0.4, 0.3, 0.2, 0.5, 0.3, 0.2, 0.4,
          0.3, 0.2, 0.4, 0.3, 0.5, 0.2, 0.3, 0.4, 0.2, 0.3, 0.2, 0.4, 0.3, 0.2, 0.3, 0.2]
rr_p21 = [0, 0, 0, 0, 0, 0, 0, 0, 0.2, 0.5, 4.0, 1.0, 0.3, 0.6, 0.4, 0.2,
          0.5, 1.0, 0.3, 0.2, 0.5, 0.4, 0.3, 0.6, 0.4, 0.3, 0.2, 0.5, 0.3, 0.2, 0.4, 0.3,
          0.2, 0.5, 0.3, 0.2, 0.4, 0.3, 0.2, 0.5, 0.3, 0.2, 0.4, 0.3, 0.2, 0.5, 0.3, 0.2,
          0.4, 0.3, 0.2, 0.5, 1.0, 2.8, 5.5, 1.2, 0.4, 0.3, 0.2, 0.5, 1.2, 1.0, 0.3, 0.2]
rr_p22 = [0, 0, 0, 0, 0, 0, 0, 0, 0.4, 0.3, 0.6, 1.5, 0.8, 2.0, 7.9, 4.5,
          1.0, 0.5, 0.3, 0.6, 0.4, 0.3, 1.2, 0.5, 0.2, 0.4, 0.3, 0.2, 0.5, 0.3, 0.2, 0.4,
          0.3, 0.2, 0.5, 0.3, 0.2, 0.4, 0.3, 0.2, 0.4, 0.3, 0.2, 0.5, 0.3, 0.2, 0.4, 0.3,
          0.2, 0.4, 0.3, 0.2, 0.5, 0.3, 0.4, 0.3, 0.2, 0.3, 0.5, 0.4, 0.2, 0.3, 0.2, 0.4]
rr_p23 = [0, 0, 0, 0, 0, 0, 0, 0, 0.3, 1.5, 0.4, 3.8, 0.5, 0.3, 0.6, 4.2,
          0.6, 0.4, 1.2, 0.5, 0.3, 0.6, 0.4, 1.8, 0.6, 0.3, 0.2, 0.5, 0.4, 0.3, 0.2, 0.4,
          0.3, 0.5, 0.2, 0.4, 0.3, 0.2, 0.5, 0.3, 0.2, 0.4, 0.3, 0.6, 0.4, 0.2, 0.3, 0.2,
          0.3, 0.2, 0.4, 0.3, 0.2, 0.5, 1.5, 2.5, 0.8, 0.3, 0.2, 0.5, 0.3, 0.2, 0.4, 0.3]
rr_p24 = [0, 0, 0, 0, 0, 0, 0, 0, 0.2, 0.6, 0.3, 0.5, 1.2, 0.4, 0.3, 0.6,
          0.4, 0.3, 0.6, 0.2, 1.0, 0.5, 4.0, 0.8, 4.5, 0.6, 0.3, 0.2, 0.4, 0.3, 0.5, 0.2,
          0.4, 1.3, 0.5, 0.2, 0.3, 0.4, 0.2, 0.3, 0.5, 0.3, 0.2, 0.4, 0.3, 0.2, 0.5, 0.3,
          0.2, 0.3, 0.5, 0.2, 0.4, 0.6, 0.3, 0.2, 0.4, 0.3, 0.2, 0.5, 1.3, 1.5, 0.3, 0.2]
rr_p25 = [0, 0, 0, 1.7, 0, 0, 0, 0, 0.3, 0.5, 0.2, 0.6, 0.4, 0.8, 0.3, 0.5,
          0.6, 0.3, 0.4, 0.5, 0.2, 0.6, 0.3, 0.4, 0.2, 0.5, 0.3, 0.2, 0.4, 0.3, 0.2, 0.5,
          0.3, 0.2, 0.4, 0.6, 0.3, 0.2, 0.4, 0.3, 0.2, 0.5, 0.3, 0.4, 0.2, 0.3, 0.5, 0.2,
          0.4, 0.3, 0.2, 0.5, 0.3, 0.4, 1.0, 3.8, 1.5, 0.3, 0.2, 0.4, 0.3, 0.2, 0.5, 0.3]
rr_p26 = [0, 0, 0, 0, 0, 0, 0, 0, 0.4, 0.6, 0.3, 0.5, 0.8, 0.4, 0.6, 0.3,
          0.5, 0.4, 0.3, 0.6, 0.2, 0.5, 0.4, 0.3, 0.4, 0.2, 0.5, 0.3, 0.4, 0.3, 0.2, 0.4,
          0.3, 0.5, 0.4, 0.2, 0.3, 0.5, 0.3, 0.2, 0.4, 0.3, 0.5, 0.2, 3.3, 0.6, 0.3, 0.4,
          0.3, 0.4, 0.6, 4.6, 0.5, 0.3, 0.2, 0.4, 0.3, 0.2, 0.4, 0.3, 0.5, 0.2, 0.3, 0.4]
rr_p27 = [0, 0, 0, 0, 0, 0, 0, 0, 2.2, 0.3, 0.8, 1.5, 4.4, 0.6, 0.3, 3.5,
          0.4, 0.6, 0.3, 0.5, 0.8, 0.4, 0.3, 0.6, 0.3, 0.5, 2.0, 1.0, 0.4, 0.3, 0.5, 0.2,
          0.4, 0.3, 0.2, 0.5, 0.3, 0.4, 0.2, 0.3, 0.5, 0.3, 0.4, 0.2, 0.3, 0.5, 0.3, 0.2,
          0.4, 0.3, 0.5, 0.2, 0.3, 0.4, 0.3, 0.5, 0.2, 0.4, 0.3, 0.5, 0.2, 0.3, 0.4, 0.3]
rr_p28 = [0, 0, 0, 0, 0, 0, 0, 0, 0.5, 3.0, 0.4, 2.5, 0.6, 6.0, 1.2, 0.4,
          0.8, 0.5, 0.3, 0.6, 0.4, 0.5, 0.3, 0.4, 0.3, 0.6, 0.4, 0.2, 0.5, 0.3, 0.4, 0.3,
          0.2, 0.4, 0.3, 0.5, 0.2, 0.3, 0.4, 0.2, 0.3, 0.5, 0.2, 0.4, 0.3, 0.2, 0.5, 0.3,
          0.2, 0.4, 0.3, 0.5, 0.2, 0.3, 0.4, 0.2, 0.3, 0.2, 0.5, 0.3, 0.4, 0.2, 0.3, 0.5]
rr_p29 = [0, 0, 0, 0, 0, 0, 0, 0, 0.4, 0.8, 0.5, 1.0, 0.6, 0.4, 0.8, 0.3,
          0.5, 0.3, 0.6, 0.4, 0.5, 0.3, 2.5, 4.0, 1.0, 0.4, 0.3, 0.5, 0.2, 0.4, 0.3, 0.6,
          0.3, 0.5, 0.2, 0.4, 0.3, 0.5, 0.2, 0.4, 0.3, 0.2, 0.5, 0.3, 0.4, 0.2, 0.3, 0.5,
          0.2, 0.4, 0.3, 0.5, 0.3, 1.8, 0.4, 0.3, 0.2, 0.5, 0.3, 0.4, 0.2, 0.3, 0.5, 0.2]
rr_p30 = [0, 0, 0, 0, 0, 0, 0, 0, 0.3, 2.6, 0.4, 0.8, 3.2, 0.3, 0.6, 2.4,
          0.5, 0.4, 0.3, 0.6, 0.4, 0.3, 0.5, 0.4, 0.3, 0.5, 0.2, 0.4, 0.3, 0.5, 0.2, 0.3,
          0.4, 0.3, 0.5, 0.2, 0.3, 0.4, 0.2, 0.5, 0.3, 0.2, 0.4, 0.3, 0.5, 0.2, 0.3, 0.4,
          0.2, 0.3, 0.5, 0.4, 0.2, 0.3, 0.4, 0.2, 0.3, 0.4, 0.2, 0.3, 0.5, 0.2, 0.3, 0.4]

td_members = [td_p01, td_p02, td_p03, td_p04, td_p05, td_p06, td_p07, td_p08, td_p09, td_p10,
              td_p11, td_p12, td_p13, td_p14, td_p15, td_p16, td_p17, td_p18, td_p19, td_p20,
              td_p21, td_p22, td_p23, td_p24, td_p25, td_p26, td_p27, td_p28, td_p29, td_p30]
rr_members = [rr_p01, rr_p02, rr_p03, rr_p04, rr_p05, rr_p06, rr_p07, rr_p08, rr_p09, rr_p10,
              rr_p11, rr_p12, rr_p13, rr_p14, rr_p15, rr_p16, rr_p17, rr_p18, rr_p19, rr_p20,
              rr_p21, rr_p22, rr_p23, rr_p24, rr_p25, rr_p26, rr_p27, rr_p28, rr_p29, rr_p30]

# 20 colour cycle, P21..P30 reuse P1..P10
member_colors = ['#1c34d0', '#0a50c8', '#1270b8', '#1290c8', '#10a0b0', '#10a088', '#10a068', '#10a848',
                 '#10b030', '#10c010', '#b8b810', '#c0a810', '#c89810', '#c88810', '#c07010', '#b86010',
                 '#b04818', '#a83820', '#982818', '#881818']

fig = plt.figure(figsize=(8.5, 6.2), dpi=100, facecolor='black')
ax = fig.add_axes([0.1918, 0.0984, 0.7612, 0.8532])
ax.set_facecolor('black')
ax2 = ax.twinx()

handles = []
for k in range(30):
    c = member_colors[k % 20]
    ln, = ax.plot(times, td_members[k], color=c, lw=0.8)
    ax2.plot(times, rr_members[k], color=c, lw=0.8)
    handles.append(ln)

h_ctrl, = ax.plot(times, td_control, color='#0000ff', lw=3)
ax2.plot(times, rr_control, color='#0000ff', lw=3)
h_oper, = ax.plot(times, td_oper, color='#00cc00', lw=3)
ax2.plot(times, rr_oper, color='#00cc00', lw=3)
h_mean, = ax.plot(times, td_mean, color='white', lw=3)
ax2.plot(times, rr_mean, color='white', lw=3)

ax.axhline(0, color='white', lw=1.2)

ax.set_xlim(pd.Timestamp('2025-07-17 00:00'), pd.Timestamp('2025-08-02 12:00'))
ax.set_ylim(-10, 35)
ax2.set_ylim(0, 40)

ax.set_xticks(x_ticks)
ax.set_xticks(day_lines, minor=True)
ax.xaxis.set_major_formatter(mdates.DateFormatter('%d%b %Hz'))
ax.set_yticks(range(-10, 36, 5))
ax.grid(which='both', axis='x', color='#3c3c3c', linestyle=(0, (4, 4)), lw=0.9)
ax.grid(which='major', axis='y', color='#3c3c3c', linestyle=(0, (4, 4)), lw=0.9)
ax.tick_params(axis='both', which='both', length=0, colors='white', labelsize=7.5)
ax.tick_params(axis='x', pad=8)
ax.tick_params(axis='y', pad=9)

ax2.set_yticks([0, 10, 20, 30, 40])
ax2.set_yticks(range(0, 41), minor=True)
ax2.tick_params(axis='y', which='both', direction='in', length=4, width=1, colors='white',
                labelsize=7.5, pad=7)

for a in (ax, ax2):
    for s in a.spines.values():
        s.set_color('white')
        s.set_linewidth(1.0)

ax.set_ylabel('2m Dewpoint (°C)', color='white', fontsize=7.5)
ax.yaxis.set_label_coords(-0.042, 0.5)
ax2.set_ylabel('Precipitation (mm)', color='white', fontsize=7.5)
ax2.yaxis.set_label_coords(1.039, 0.5)
ax.set_xlabel('Date (UTC)', color='white', fontsize=7.5)
ax.xaxis.set_label_coords(0.5, -0.048)

fig.text(0.512, 0.981, 'De Bilt  (NL)  2m Dewpoint & Precipitation | Thu, 17Jul2025 12Z',
         color='white', fontsize=11.5, fontweight='bold', ha='center', va='center')
fig.text(0.141, 0.0355, 'GFS Ensemble, 52N, 5E', color='white', fontsize=11.5, ha='left', va='center')
fig.text(0.935, 0.0355, 'Wetterzentrale.de', color='white', fontsize=11.5, ha='right', va='center')

# legend: two columns filled row-wise (P1 P2 / P3 P4 ...)
col1 = [handles[k] for k in range(0, 30, 2)] + [h_ctrl, h_oper]
lab1 = ['P%d' % (k + 1) for k in range(0, 30, 2)] + ['Control', 'Oper']
col2 = [handles[k] for k in range(1, 30, 2)] + [h_mean]
lab2 = ['P%d' % (k + 1) for k in range(1, 30, 2)] + ['Ens. mean']
leg_handles = [Line2D([0], [0], color=h.get_color(), lw=2) for h in col1 + col2]
leg = fig.legend(leg_handles, lab1 + lab2, loc='upper left', bbox_to_anchor=(0.0, 0.943), ncol=2,
                 frameon=False, fontsize=7.5, labelcolor='white', handlelength=0.8,
                 handletextpad=0.15, columnspacing=0.8, labelspacing=0.48, borderpad=0,
                 borderaxespad=0)

fig.savefig('out.png', dpi=100, facecolor='black')
